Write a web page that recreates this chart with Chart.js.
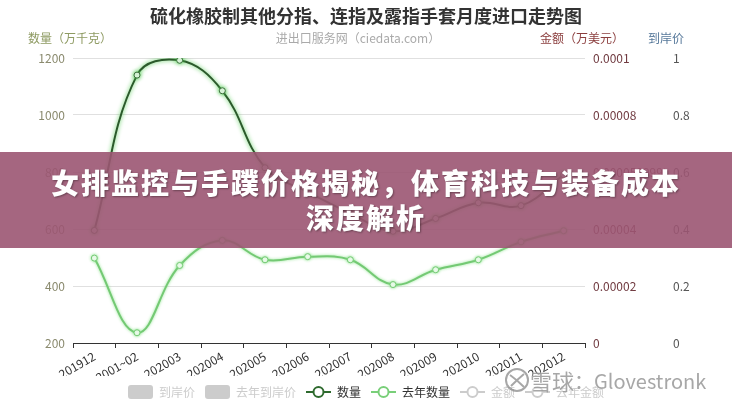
<!DOCTYPE html>
<html>
<head>
<meta charset="utf-8">
<script src="https://cdn.jsdelivr.net/npm/chart.js@4/dist/chart.umd.min.js"></script>
<style>
  html, body { margin: 0; padding: 0; background: #fff; }
  #wrap { position: relative; width: 732px; height: 400px; overflow: hidden; font-family: "Noto Sans CJK SC", "Noto Sans", sans-serif; }
  #c { position: absolute; left: 0; top: 0; }
  .t { position: absolute; white-space: nowrap; }
  #title { left: 0; width: 732px; top: 2px; text-align: center; font-size: 18px; font-weight: 700; color: #333; }
  #sub { left: 0; width: 716px; top: 29px; text-align: center; font-size: 12px; color: #aaa; }
  #ylt { left: 28px; top: 29px; font-size: 12px; color: #8e9a62; }
  #y1t { left: 540px; top: 29px; font-size: 12px; color: #8b3e3e; }
  #y2t { left: 648px; top: 29px; font-size: 12px; color: #56789a; }
  #banner { position: absolute; left: 0; top: 152px; width: 732px; height: 96px; background: rgba(155,85,114,0.9);
            color: #fff; text-align: center; font-size: 28px; font-weight: 900; line-height: 35px; letter-spacing: 2px;
            box-sizing: border-box; padding-top: 13px; text-shadow: 1px 1px 2px rgba(0,0,0,0.35); }
  #wm { position: absolute; left: 504px; top: 364px; color: rgba(130,130,130,0.7); white-space: nowrap;
        text-shadow: 0 0 2px #fff; display: flex; align-items: center; }
  #wm .a { font-size: 22px; }
  #wm .b { font-size: 20px; margin-left: 0px; }
</style>
</head>
<body>
<div id="wrap">
  <canvas id="c" width="732" height="400"></canvas>
  <div class="t" id="title">硫化橡胶制其他分指、连指及露指手套月度进口走势图</div>
  <div class="t" id="sub">进出口服务网（ciedata.com）</div>
  <div class="t" id="ylt">数量（万千克）</div>
  <div class="t" id="y1t">金额（万美元）</div>
  <div class="t" id="y2t">到岸价</div>
  <div id="banner">女排监控与手蹼价格揭秘，体育科技与装备成本<br>深度解析</div>
  <div id="wm">
    <svg width="26" height="26" viewBox="0 0 26 26"><circle cx="13" cy="13" r="11" fill="none" stroke="rgba(130,130,130,0.7)" stroke-width="2"/><path d="M6 8 Q13 13 20 20 M20 7 Q14 12 7 19" fill="none" stroke="rgba(130,130,130,0.7)" stroke-width="2"/></svg>
    <span class="a">雪球</span><span class="b">：Glovestronk</span>
  </div>
</div>
<script>
// ---- data ----
const categories = ['201912','202001~02','202003','202004','202005','202006','202007','202008','202009','202010','202011','202012'];
const quantity = [595, 1140, 1192, 1085, 815, 730, 655, 592, 637, 692, 682, 790];
const lastYearQuantity = [498, 236, 472, 560, 492, 503, 492, 405, 457, 492, 555, 594];
const cifPrice = [];
const lastYearCifPrice = [];
const amount = [];
const lastYearAmount = [];
const leftTicks = [200, 400, 600, 800, 1000, 1200];
const amountTickLabels = ['0', '0.00002', '0.00004', '0.000059999999999995', '0.00008', '0.0001'];
const priceTickLabels = ['0', '0.2', '0.4', '0.6', '0.8', '1'];
const seriesNames = ['到岸价', '去年到岸价', '数量', '去年数量', '金额', '去年金额'];

// ---- legend icons ----
function boxIcon(color) {
  const c = document.createElement('canvas'); c.width = 25; c.height = 14;
  const x = c.getContext('2d'); x.fillStyle = color;
  x.beginPath(); x.roundRect(0, 0, 25, 14, 3); x.fill();
  return c;
}
function lineIcon(color) {
  const c = document.createElement('canvas'); c.width = 25; c.height = 14;
  const x = c.getContext('2d'); x.strokeStyle = color; x.lineWidth = 2;
  x.beginPath(); x.moveTo(0, 7); x.lineTo(25, 7); x.stroke();
  x.beginPath(); x.arc(12.5, 7, 5, 0, Math.PI * 2); x.fillStyle = '#fff'; x.fill(); x.stroke();
  return c;
}
const icons = [boxIcon('#ccc'), boxIcon('#ccc'), lineIcon('#2e6a2e'), lineIcon('#79cf79'), lineIcon('#ccc'), lineIcon('#ccc')];

const glow = {
  id: 'glow',
  beforeDatasetDraw(chart, args) {
    const ds = chart.data.datasets[args.index];
    if (!ds.glowColor) return;
    chart.ctx.save();
    chart.ctx.shadowColor = ds.glowColor;
    chart.ctx.shadowBlur = ds.glowBlur;
  },
  afterDatasetDraw(chart, args) {
    const ds = chart.data.datasets[args.index];
    if (!ds.glowColor) return;
    chart.ctx.restore();
  }
};
const legendFit = {
  id: 'legendFit',
  afterInit(chart) {
    const lg = chart.legend;
    const orig = lg.fit;
    lg.fit = function () { orig.call(this); this.height = 24; };
  }
};

new Chart(document.getElementById('c'), {
  data: {
    labels: categories,
    datasets: [
      { type: 'bar', label: seriesNames[0], data: cifPrice, yAxisID: 'y2', hidden: true, backgroundColor: '#ccc' },
      { type: 'bar', label: seriesNames[1], data: lastYearCifPrice, yAxisID: 'y2', hidden: true, backgroundColor: '#ccc' },
      { type: 'line', label: seriesNames[2], data: quantity, yAxisID: 'y', borderColor: '#2c5a2c', borderWidth: 2,
        tension: 0.4, pointRadius: 3, pointBackgroundColor: '#fff', pointBorderColor: '#3a6e3a', pointBorderWidth: 1,
        glowColor: 'rgba(70,200,70,0.95)', glowBlur: 4 },
      { type: 'line', label: seriesNames[3], data: lastYearQuantity, yAxisID: 'y', borderColor: '#74c974', borderWidth: 2,
        tension: 0.4, pointRadius: 3, pointBackgroundColor: '#fff', pointBorderColor: '#74c974', pointBorderWidth: 1,
        glowColor: 'rgba(130,225,130,0.9)', glowBlur: 3 },
      { type: 'line', label: seriesNames[4], data: amount, yAxisID: 'y1', hidden: true, borderColor: '#8b3e3e' },
      { type: 'line', label: seriesNames[5], data: lastYearAmount, yAxisID: 'y1', hidden: true, borderColor: '#c08080' }
    ]
  },
  options: {
    responsive: false,
    animation: false,
    layout: { padding: { top: 58, left: 0, right: 0, bottom: 0 } },
    scales: {
      x: {
        type: 'category', offset: true,
        grid: { offset: true, drawOnChartArea: false, drawTicks: true, tickLength: 5, color: '#333' },
        border: { display: true, color: '#333', width: 1 },
        ticks: { color: '#333', font: { size: 12, family: 'Noto Sans CJK SC' }, minRotation: 30, maxRotation: 30, autoSkip: false, padding: 1 },
        afterFit(s) { s.height = 33; }
      },
      y: {
        position: 'left', min: 200, max: 1200,
        grid: { color: '#e0e0e0', drawTicks: false },
        border: { display: false },
        ticks: { stepSize: 200, padding: 8, color: '#8a8a6e', font: { size: 12, family: 'Noto Sans CJK SC' },
                 callback: (v, i) => String(leftTicks[i]) },
        afterFit(s) { s.width = 73; }
      },
      y1: {
        position: 'right', min: 0, max: 0.0001, weight: 1,
        grid: { drawOnChartArea: false, drawTicks: false },
        border: { display: false },
        ticks: { stepSize: 0.00002, padding: 8, color: '#703a40', font: { size: 12, family: 'Noto Sans CJK SC' },
                 callback: (v, i) => amountTickLabels[i] },
        afterFit(s) { s.width = 80; }
      },
      y2: {
        position: 'right', min: 0, max: 1, weight: 2,
        grid: { drawOnChartArea: false, drawTicks: false },
        border: { display: false },
        ticks: { stepSize: 0.2, padding: 8, color: '#555', font: { size: 12, family: 'Noto Sans CJK SC' },
                 callback: (v, i) => priceTickLabels[i] },
        afterFit(s) { s.width = 67; }
      }
    },
    plugins: {
      title: { display: false },
      tooltip: { enabled: false },
      legend: {
        position: 'bottom',
        onClick: null,
        labels: {
          usePointStyle: true, pointStyleWidth: 25, boxHeight: 14, padding: 10,
          font: { size: 12, family: 'Noto Sans CJK SC' },
          generateLabels(chart) {
            return chart.data.datasets.map((ds, i) => ({
              text: ds.label, datasetIndex: i, hidden: false,
              pointStyle: icons[i], fillStyle: 'transparent', strokeStyle: 'transparent', lineWidth: 0,
              fontColor: chart.isDatasetVisible(i) ? '#333' : '#ccc'
            }));
          }
        }
      }
    }
  },
  plugins: [glow, legendFit]
});
</script>
</body>
</html>
